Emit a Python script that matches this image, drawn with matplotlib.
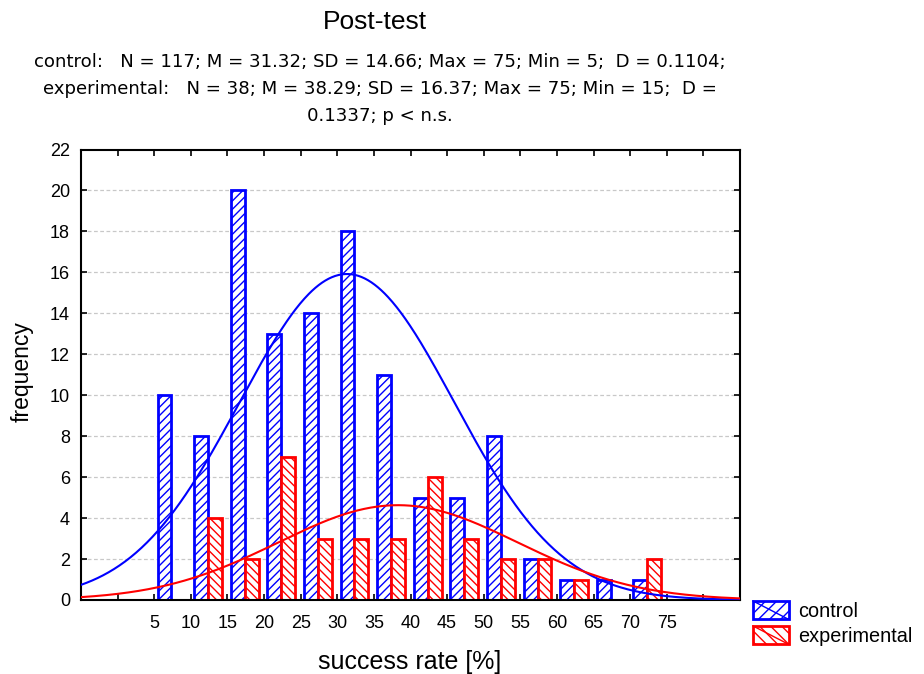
import numpy as np
import matplotlib
matplotlib.use("Agg")
import matplotlib.pyplot as plt
from matplotlib.patches import Rectangle, Patch
from matplotlib.lines import Line2D
from matplotlib.legend_handler import HandlerPatch

plt.rcParams['font.family'] = ['Liberation Sans', 'DejaVu Sans']
plt.rcParams['hatch.linewidth'] = 1.0

# ---- data ----
bin_starts = [5, 10, 15, 20, 25, 30, 35, 40, 45, 50, 55, 60, 65, 70]
control = [10, 8, 20, 13, 14, 18, 11, 5, 5, 8, 2, 1, 1, 1]
experimental = [0, 4, 2, 7, 3, 3, 3, 6, 3, 2, 2, 1, 0, 2]
bin_width = 5

ctrl_N, ctrl_M, ctrl_SD = 117, 31.32, 14.66
exp_N, exp_M, exp_SD = 38, 38.29, 16.37

xtick_labels = ['5', '10', '15', '20', '25', '30', '35', '40', '45', '50', '55', '60', '65', '70', '75']
yticks = list(range(0, 23, 2))

title = "Post-test"
subtitle_lines = ["control:   N = 117; M = 31.32; SD = 14.66; Max = 75; Min = 5;  D = 0.1104;",
                  "experimental:   N = 38; M = 38.29; SD = 16.37; Max = 75; Min = 15;  D =",
                  "0.1337; p < n.s."]

BLUE = '#0000ff'
RED = '#ff0000'

W, H = 924, 674
fig = plt.figure(figsize=(W / 100, H / 100), dpi=100)
ax = fig.add_axes([81 / W, 1 - 600 / H, (740 - 81) / W, (600 - 149.5) / H])

starts = np.array(bin_starts, dtype=float)
bw = 1.9
ax.bar(starts + 0.45, control, width=bw, align='edge', facecolor='white',
       edgecolor=BLUE, hatch='////', linewidth=2, zorder=2)
ax.bar(starts + 0.45 + bw, experimental, width=bw, align='edge', facecolor='white',
       edgecolor=RED, hatch='\\\\\\\\', linewidth=2, zorder=2)

xs = np.linspace(-5, 85, 600)
def normal_curve(N, M, SD):
    return N * bin_width / (SD * np.sqrt(2 * np.pi)) * np.exp(-0.5 * ((xs - M) / SD) ** 2)
ax.plot(xs, normal_curve(ctrl_N, ctrl_M, ctrl_SD), color=BLUE, lw=1.5, zorder=4)
ax.plot(xs, normal_curve(exp_N, exp_M, exp_SD), color=RED, lw=1.5, zorder=4)

ax.set_xlim(-5, 85)
ax.set_ylim(0, 22)
ax.set_xticks(range(0, 81, 5))
ax.set_xticklabels([''] + xtick_labels + [''])
ax.set_yticks(yticks)
ax.tick_params(axis='both', direction='in', top=True, right=True, length=4,
               width=1.2, labelsize=13, colors='black')
ax.tick_params(axis='x', pad=11)
ax.tick_params(axis='y', pad=8)
for s in ax.spines.values():
    s.set_linewidth(1.5)
for y in yticks[1:-1]:
    ax.axhline(y, color='#c8c8c8', lw=0.9, ls=(0, (3, 2)), zorder=1)

fig.text(410 / W, 1 - 662 / H, "success rate [%]", ha='center', va='center', fontsize=18)
fig.text(22 / W, 1 - 372 / H, "frequency", ha='center', va='center', fontsize=16.5,
         rotation=90)

fig.text(375 / W, 1 - 22 / H, title, ha='center', va='center', fontsize=19)
for i, (line, yy) in enumerate(zip(subtitle_lines, [62, 89, 116])):
    fig.text(380 / W, 1 - yy / H, line, ha='center', va='center', fontsize=13.1,
             family='DejaVu Sans')


class DiagHandler(HandlerPatch):
    def create_artists(self, legend, orig_handle, xdescent, ydescent, width, height, fontsize, trans):
        x0, y0 = -xdescent, -ydescent
        p = Rectangle((x0, y0), width, height, facecolor='white',
                      edgecolor=orig_handle.get_edgecolor(), hatch=orig_handle.get_hatch(),
                      linewidth=2, transform=trans)
        l = Line2D([x0, x0 + width], [y0 + height, y0], color=orig_handle.get_edgecolor(),
                   lw=1, transform=trans)
        return [p, l]

h1 = Patch(facecolor='white', edgecolor=BLUE, hatch='///')
h2 = Patch(facecolor='white', edgecolor=RED, hatch='\\\\\\')
fig.legend([h1, h2], ['control', 'experimental'], loc='upper left',
           bbox_to_anchor=(753 / W, 1 - 601 / H), frameon=False, fontsize=14.3,
           handlelength=1.8, handleheight=1.05, handletextpad=0.45, labelspacing=0.25,
           borderpad=0.0, borderaxespad=0.0, handler_map={Patch: DiagHandler()})

fig.savefig("out.png", dpi=100)
